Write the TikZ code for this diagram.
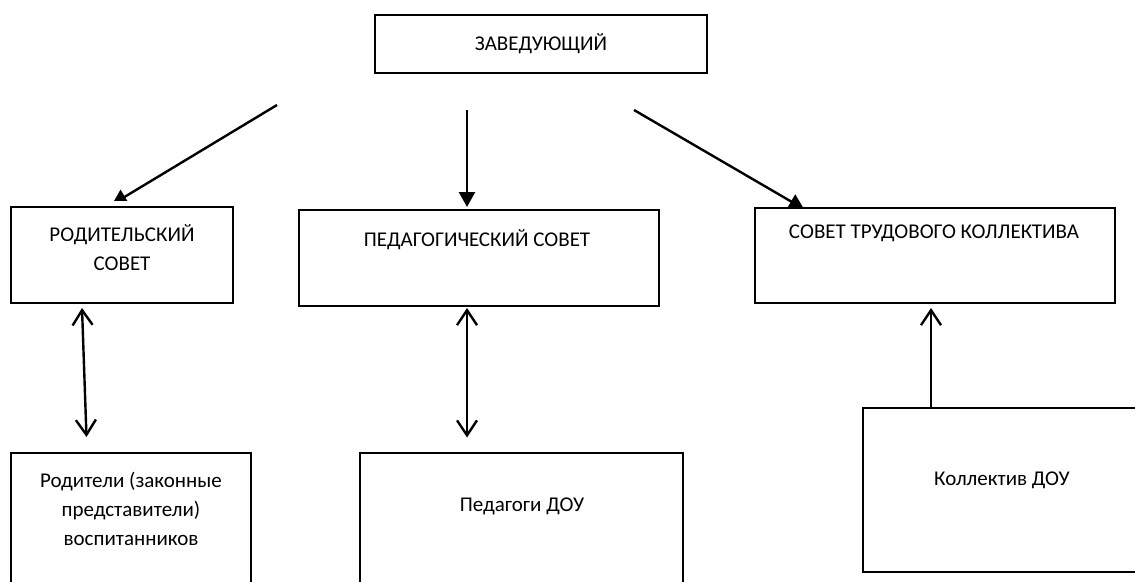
\documentclass[tikz,border=0pt]{standalone}
\usepackage{fontspec}
\setmainfont{Carlito}
\usetikzlibrary{arrows.meta,calc}
\begin{document}
\begin{tikzpicture}[x=1pt,y=-1pt,
  box/.style={draw=black, fill=white, line width=2pt, inner sep=0pt},
  bbox/.style={draw=black, fill=white, line width=2.8pt, inner sep=0pt},
  lbl/.style={font=\fontsize{21}{29}\selectfont, align=center, inner sep=0pt},
  arr/.style={line width=2.4pt, -{Triangle[length=15pt,width=16pt]}},
  dbl/.style={line width=2.4pt, {Straight Barb[length=15pt,width=20pt]}-{Straight Barb[length=15pt,width=20pt]}},
  uparr/.style={line width=2.4pt, -{Straight Barb[length=15pt,width=20pt]}}]
\useasboundingbox (0,0) rectangle (1135,581);
\fill[white] (0,0) rectangle (1135,581);

% free ends of connectors
\coordinate (s1) at (277,105);
\coordinate (t1) at (112,204.5);
\coordinate (s2) at (467,110);
\coordinate (t2) at (467,207);
\coordinate (s3) at (634,110);
\coordinate (t3) at (804,209);

% arrows from the head (drawn first, boxes cover their ends)
\draw[arr] (s1) -- (t1);
\draw[arr] (s2) -- (t2);
\draw[arr] (s3) -- (t3);

% white margin above the parents' council box
\fill[white] (8,201) rectangle (236,207);

% boxes
\node[box, minimum width=332pt, minimum height=58pt] (zav) at (541,44) {};
\node[box, minimum width=222pt, minimum height=96pt] (rod) at (122,255) {};
\node[box, minimum width=360pt, minimum height=96pt] (ped) at (479,258) {};
\node[box, minimum width=360pt, minimum height=95pt] (trud) at (935,255.5) {};
\node[bbox, minimum width=240pt, minimum height=150pt] (par) at (131,528) {};
\node[bbox, minimum width=323pt, minimum height=150pt] (pedd) at (521.5,528) {};
\node[bbox, minimum width=278pt, minimum height=164pt] (kol) at (1002,490) {};

% texts
\node[lbl] (zavT) at (541,44) {ЗАВЕДУЮЩИЙ};
\node[lbl] (rodT) at (122,248) {РОДИТЕЛЬСКИЙ\\СОВЕТ};
\node[lbl] (pedT) at (477,240) {ПЕДАГОГИЧЕСКИЙ СОВЕТ};
\node[lbl] (trudT) at (934,233) {СОВЕТ ТРУДОВОГО КОЛЛЕКТИВА};
\node[lbl] (parT) at (131,509) {Родители (законные\\представители)\\воспитанников};
\node[lbl] (peddT) at (522,506) {Педагоги ДОУ};
\node[lbl] (kolT) at (1002,480) {Коллектив ДОУ};

% two-way and upward connectors
\coordinate (d1a) at (82,308);
\coordinate (d1b) at (86.5,437);
\coordinate (d2a) at (467,308);
\coordinate (d2b) at (467,437.5);
\coordinate (u3) at (931,308);
\draw[dbl] (d1a) -- (d1b);
\draw[dbl] (d2a) -- (d2b);
\draw[uparr] (kol.north west -| u3) -- (u3);
\end{tikzpicture}
\end{document}
